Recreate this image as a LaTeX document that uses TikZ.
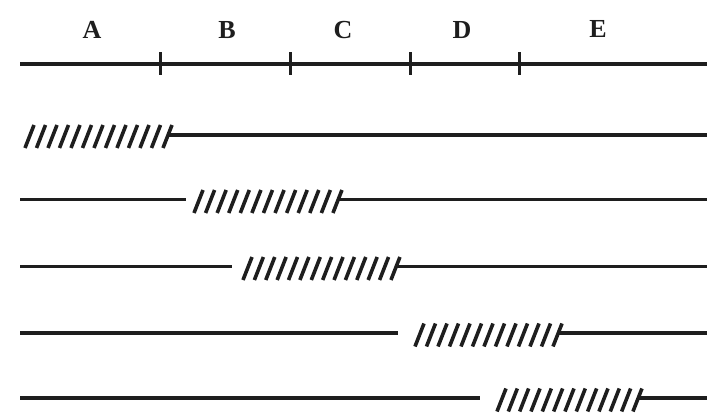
\documentclass[tikz,border=0pt]{standalone}
\usepackage{fontspec}
\setmainfont{Liberation Serif}
\definecolor{ink}{HTML}{1E1E1E}
\tikzset{
  rule/.style={draw=ink, line width=3.4pt},
  hatchstroke/.style={draw=ink, line width=3.6pt},
  tick/.style={draw=ink, line width=3pt},
  lbl/.style={font=\bfseries\fontsize{26}{26}\selectfont, text=ink, inner sep=0pt}
}
\begin{document}
\begin{tikzpicture}[x=1pt,y=-1pt]
\useasboundingbox (0,0) rectangle (717,417);
% labels
\node[lbl] (lA) at (92,30) {A};
\node[lbl] (lB) at (227,30) {B};
\node[lbl] (lC) at (343,30) {C};
\node[lbl] (lD) at (462,30) {D};
\node[lbl] (lE) at (598,29) {E};
% axis
\coordinate (a0) at (20,64);
\coordinate (a5) at (707,64);
\draw[rule] (a0) -- (a5);
\foreach \t/\x in {1/160,2/290,3/410,4/519}{
  \coordinate (t\t) at (\x,64);
  \draw[tick] (t\t) ++(0,-11.5) -- ++(0,23);
}
% row 1
\coordinate (r1e) at (707,135);
\foreach \i in {0,...,12}{
  \draw[hatchstroke] ({25+11.5*\i},148) -- ++(9,-23);
}
\coordinate (r1b) at ({25+11.5*12+5.3},135);
\draw[rule] (r1b) -- (r1e);
% row 2
\coordinate (r2a) at (20,199.5);
\coordinate (r2l) at (186,199.5);
\draw[rule] (r2a) -- (r2l);
\foreach \i in {0,...,12}{
  \draw[hatchstroke] ({194+11.58*\i},213) -- ++(9,-23);
}
\coordinate (r2b) at ({194+11.58*12+5.3},199.5);
\coordinate (r2e) at (707,199.5);
\draw[rule] (r2b) -- (r2e);
% row 3
\coordinate (r3a) at (20,266.5);
\coordinate (r3l) at (232,266.5);
\draw[rule] (r3a) -- (r3l);
\foreach \i in {0,...,13}{
  \draw[hatchstroke] ({243+11.38*\i},280) -- ++(9,-23);
}
\coordinate (r3b) at ({243+11.38*13+5.3},266.5);
\coordinate (r3e) at (707,266.5);
\draw[rule] (r3b) -- (r3e);
% row 4
\coordinate (r4a) at (20,333);
\coordinate (r4l) at (398,333);
\draw[rule] (r4a) -- (r4l);
\foreach \i in {0,...,12}{
  \draw[hatchstroke] ({415+11.5*\i},346.5) -- ++(9,-23);
}
\coordinate (r4b) at ({415+11.5*12+5.3},333);
\coordinate (r4e) at (707,333);
\draw[rule] (r4b) -- (r4e);
% row 5
\coordinate (r5a) at (20,398);
\coordinate (r5l) at (480,398);
\draw[rule] (r5a) -- (r5l);
\foreach \i in {0,...,12}{
  \draw[hatchstroke] ({497+11.33*\i},411.5) -- ++(9,-23);
}
\coordinate (r5b) at ({497+11.33*12+5.3},398);
\coordinate (r5e) at (707,398);
\draw[rule] (r5b) -- (r5e);
\end{tikzpicture}
\end{document}
